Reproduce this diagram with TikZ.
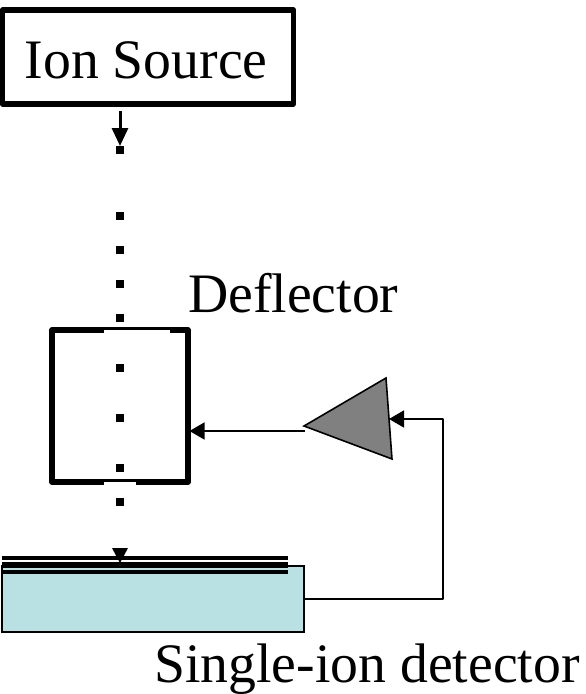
\documentclass[tikz,border=0pt]{standalone}
\usepackage{fontspec}
\setmainfont{Liberation Serif}
\usetikzlibrary{arrows.meta,calc}
\definecolor{detfill}{HTML}{B9E0E3}
\definecolor{ampfill}{HTML}{808080}
\tikzset{
  x=1pt,y=-1pt,
  thickbox/.style={draw=black,line width=5.5pt,line join=round,fill=white,inner sep=0pt},
  beamdot/.style={fill=black,minimum size=8pt,inner sep=0pt,outer sep=0pt},
  label/.style={font=\fontsize{55.7pt}{60pt}\selectfont,inner sep=0pt,anchor=base west},
  signal/.style={draw=black,line width=1.6pt,-{Triangle[length=15pt,width=17pt]}},
  beamarrow/.style={draw=black,line width=3pt,-{Triangle[length=18pt,width=16pt]}},
  foil/.style={draw=black},
  gapmask/.style={fill=white,draw=none}
}
\begin{document}
\begin{tikzpicture}
\useasboundingbox (0,0) rectangle (586,694);
% detector
\node[draw=black,line width=1.5pt,fill=detfill,minimum width=302pt,minimum height=66pt,inner sep=0pt,outer sep=0pt] (det) at (153,599) {};
\foreach \yy/\w in {558/4,565/6,572/4}
  \draw[foil,line width=\w pt] (2,\yy) -- (288,\yy);
% ion source
\node[thickbox,minimum width=291pt,minimum height=94pt,outer sep=0pt] (src) at (148,57) {};
\node[label] (srclabel) at (24.5,78.5) {Ion Source};
% deflector
\node[thickbox,minimum width=136pt,minimum height=152pt,outer sep=1.5pt] (defl) at (120,406) {};
\fill[gapmask] (104,330) rectangle (170,333.5);
\fill[gapmask] (104,481.5) rectangle (136,485.5);
\node[label] (defllabel) at (188,312) {Deflector};
\node[label] (detlabel) at (154,682) {Single-ion detector};
% beam dots
\foreach \nm/\yy in {a/150,b/216,c/250,d/284,e/318,f/368,g/418,h/468,i/502}
  \node[beamdot] (dot\nm) at (120,\yy) {};
\coordinate (beamstart) at (120,111);
\draw[beamarrow] (beamstart) -- (120,146);
\fill[black] (112,548) -- (128,548) -- (120,563) -- cycle;
% amplifier
\coordinate (ampa) at (304,426);
\coordinate (ampb) at (386,378);
\coordinate (ampc) at (392,459);
\draw[fill=ampfill,line width=1.6pt,line join=miter] (ampa) -- (ampb) -- (ampc) -- cycle;
% connectors
\coordinate (ampout) at (305,431);
\coordinate (ampin) at (389,419);
\coordinate (corner) at (443,419);
\draw[signal] (ampout) -- (ampout -| defl.east);
\draw[signal,line join=round] (det.east) -- (det.east -| corner) -- (corner) -- (ampin);
\end{tikzpicture}
\end{document}
